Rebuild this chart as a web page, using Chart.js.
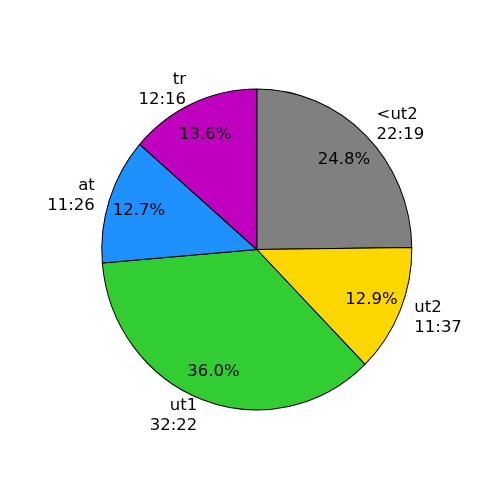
<!DOCTYPE html>
<html>
<head>
<meta charset="utf-8">
<script src="https://cdn.jsdelivr.net/npm/chart.js@4/dist/chart.umd.min.js"></script>
<style>
  html, body { margin: 0; padding: 0; background: #fff; }
  #wrap { width: 500px; height: 500px; }
</style>
</head>
<body>
<div id="wrap"><canvas id="pie" width="500" height="500"></canvas></div>
<script>
// slices, clockwise from 12 o'clock
var zones = ['<ut2', 'ut2', 'ut1', 'at', 'tr'];
var times = ['22:19', '11:37', '32:22', '11:26', '12:16'];
var seconds = [1339, 697, 1942, 686, 736];
var colours = ['#808080', '#FFD700', '#32CD32', '#1E90FF', '#BF00BF'];

var stretchY = 1.035;   // the reference pie is a little taller than wide
var font = '16.5px "DejaVu Sans", sans-serif';

// squash the arcs into the slightly oval shape of the reference
var ovalPlugin = {
  id: 'oval',
  beforeDatasetsDraw: function(chart) {
    var arc = chart.getDatasetMeta(0).data[0];
    var ctx = chart.ctx;
    ctx.save();
    ctx.translate(arc.x, arc.y);
    ctx.scale(1, stretchY);
    ctx.translate(-arc.x, -arc.y);
  },
  afterDatasetsDraw: function(chart) {
    chart.ctx.restore();
  }
};

// matplotlib style labels: name + time outside, percent inside
var labelPlugin = {
  id: 'pieLabels',
  afterDraw: function(chart) {
    var ctx = chart.ctx;
    var meta = chart.getDatasetMeta(0);
    var total = seconds.reduce(function(a, b) { return a + b; }, 0);
    ctx.save();
    ctx.font = font;
    ctx.fillStyle = '#000';
    ctx.textBaseline = 'middle';
    meta.data.forEach(function(arc, i) {
      var mid = (arc.startAngle + arc.endAngle) / 2;
      var r = arc.outerRadius;
      var c = Math.cos(mid), s = Math.sin(mid);

      // percent
      var px = arc.x + 0.8 * r * c;
      var py = arc.y + 0.8 * r * s * stretchY + 1.5;
      ctx.textAlign = 'center';
      ctx.fillText((seconds[i] / total * 100).toFixed(1) + '%', px, py);

      // outer label
      var lx = arc.x + 1.1 * r * c;
      var ly = arc.y + 1.1 * r * s * stretchY + 1;
      ctx.textAlign = c >= 0 ? 'left' : 'right';
      ctx.fillText(zones[i], lx, ly - 10);
      ctx.fillText(times[i], lx, ly + 10);
    });
    ctx.restore();
  }
};

new Chart(document.getElementById('pie'), {
  type: 'pie',
  data: {
    labels: zones,
    datasets: [{
      data: seconds,
      backgroundColor: colours,
      borderColor: '#000',
      borderWidth: 1,
      radius: 155
    }]
  },
  options: {
    responsive: false,
    animation: false,
    layout: { padding: { left: 101.8, right: 88.2, top: 94.5, bottom: 95.5 } },
    plugins: {
      legend: { display: false },
      tooltip: { enabled: false }
    }
  },
  plugins: [ovalPlugin, labelPlugin]
});
</script>
</body>
</html>
